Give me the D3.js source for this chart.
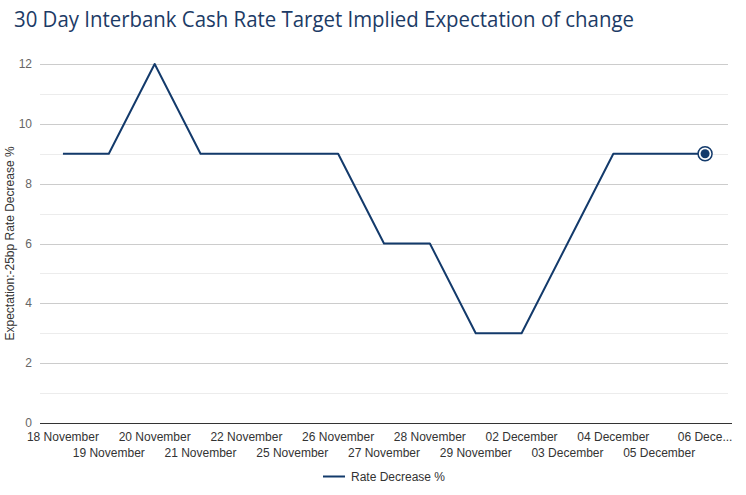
<!DOCTYPE html>
<html><head><meta charset="utf-8">
<script src="https://cdn.jsdelivr.net/npm/d3@7"></script>
<style>body{margin:0;background:#fff}svg{display:block}</style>
</head><body>
<svg id="c" width="746" height="495"></svg>
<script>
const categories = ["18 November","19 November","20 November","21 November","22 November","25 November","26 November","27 November","28 November","29 November","02 December","03 December","04 December","05 December","06 December"];
const values = [9,9,12,9,9,9,9,6,6,3,3,6,9,9,9];
const yTicks = [0,2,4,6,8,10,12];
const yMinor = [1,3,5,7,9,11];
const seriesName = "Rate Decrease %";
const color = "#133a6b";

const svg = d3.select("#c");
const m = {l:40, r:18, t:64, b:72};
const W = 746, H = 495;
const x = d3.scaleBand().domain(categories).range([m.l, W - m.r]);
const y = d3.scaleLinear().domain([0,12]).range([H - m.b, m.t]);
const cx = d => x(d) + x.bandwidth()/2;

svg.append("text").attr("x",14).attr("y",27).attr("font-family","Open Sans").attr("font-size",21)
  .attr("fill","#1c3b66").attr("textLength",620).attr("lengthAdjust","spacingAndGlyphs")
  .text("30 Day Interbank Cash Rate Target Implied Expectation of change");

// gridlines
svg.append("g").selectAll("line").data(yMinor).join("line")
  .attr("x1",m.l).attr("x2",W-m.r).attr("y1",d=>Math.round(y(d))+0.5).attr("y2",d=>Math.round(y(d))+0.5)
  .attr("stroke","#ececec");
svg.append("g").selectAll("line").data(yTicks.filter(d=>d>0)).join("line")
  .attr("x1",m.l).attr("x2",W-m.r).attr("y1",d=>Math.round(y(d))+0.5).attr("y2",d=>Math.round(y(d))+0.5)
  .attr("stroke","#cccccc");
svg.append("line").attr("x1",m.l).attr("x2",W-m.r+4).attr("y1",Math.round(y(0))+0.5).attr("y2",Math.round(y(0))+0.5)
  .attr("stroke","#333");

// y labels
svg.append("g").selectAll("text").data(yTicks).join("text")
  .attr("x",32).attr("y",d=>y(d)+4).attr("text-anchor","end")
  .attr("font-family","Liberation Sans, Arial").attr("font-size",12).attr("fill","#666")
  .text(d=>d);
svg.append("text").attr("transform",`translate(14,${(y(0)+y(12))/2}) rotate(-90)`)
  .attr("text-anchor","middle").attr("font-family","Liberation Sans, Arial").attr("font-size",12).attr("fill","#333")
  .text("Expectation:-25bp Rate Decrease %");

// x labels
svg.append("g").selectAll("text").data(categories).join("text")
  .attr("x",d=>cx(d)).attr("y",(d,i)=> i%2===0 ? 441 : 457)
  .attr("text-anchor","middle").attr("font-family","Liberation Sans, Arial").attr("font-size",12).attr("fill","#333")
  .text((d,i)=> i===categories.length-1 ? "06 Dece..." : d);

// line
const line = d3.line().x((d,i)=>cx(categories[i])).y(d=>y(d));
svg.append("path").datum(values).attr("d",line).attr("fill","none").attr("stroke",color).attr("stroke-width",2).attr("stroke-linejoin","round");

// hover marker on last point
const li = values.length-1;
svg.append("circle").attr("cx",cx(categories[li])).attr("cy",y(values[li])).attr("r",7).attr("fill","#fff").attr("stroke",color).attr("stroke-width",1.5);
svg.append("circle").attr("cx",cx(categories[li])).attr("cy",y(values[li])).attr("r",4.5).attr("fill",color);

// legend
svg.append("line").attr("x1",323).attr("x2",345).attr("y1",476.5).attr("y2",476.5).attr("stroke",color).attr("stroke-width",2);
svg.append("text").attr("x",351).attr("y",481).attr("font-family","Liberation Sans, Arial").attr("font-size",12).attr("fill","#333").text(seriesName);
</script>
</body></html>
